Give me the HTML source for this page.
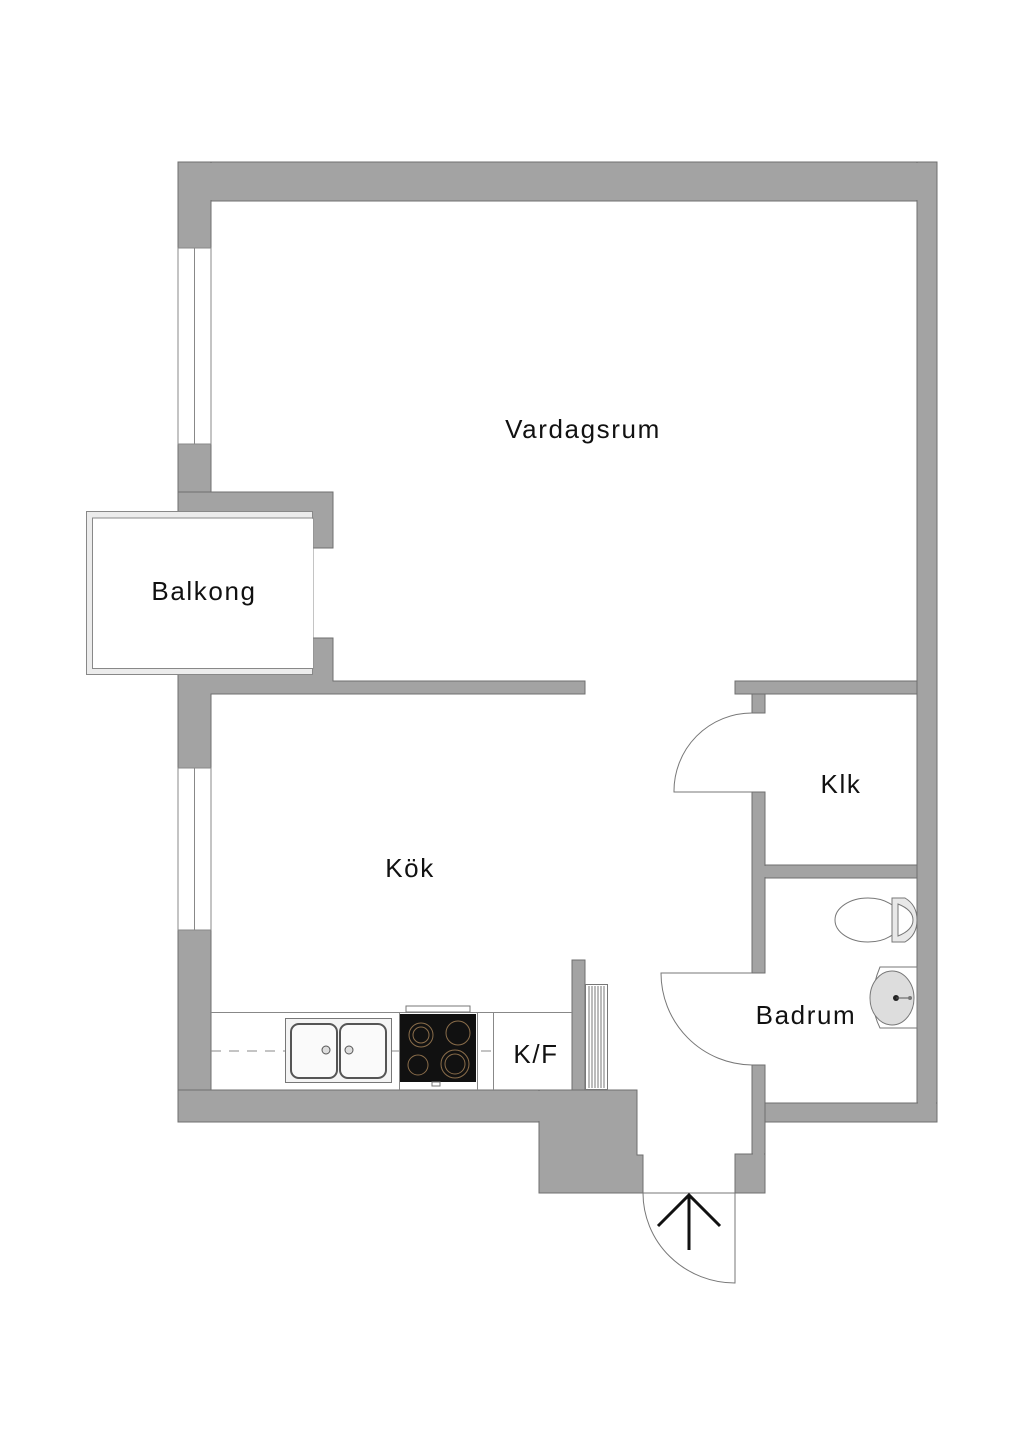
<!DOCTYPE html>
<html><head><meta charset="utf-8"><style>
html,body{margin:0;padding:0;background:#fff;}
svg{display:block;}
text{font-family:"Liberation Sans","DejaVu Sans",sans-serif;fill:#111;letter-spacing:1.6px;}
</style></head><body>
<svg width="1024" height="1449" viewBox="0 0 1024 1449" xmlns="http://www.w3.org/2000/svg">
<g fill="#a3a3a3" stroke="#6f6f6f" stroke-width="1">
<rect x="178" y="162" width="759" height="39"/>
<rect x="917" y="162" width="20" height="960"/>
<rect x="178" y="162" width="33" height="86"/>
<rect x="178" y="444" width="33" height="74"/>
<polygon points="178,492 333,492 333,548 313,548 313,518 178,518"/>
<polygon points="178,668 313,668 313,638 333,638 333,681 585,681 585,694 211,694 211,768 178,768"/>
<rect x="178" y="930" width="33" height="192"/>
<rect x="178" y="1090" width="459" height="32"/>
<polygon points="539,1122 539,1193 643,1193 643,1155 637,1155 637,1090 539,1090"/>
<rect x="572" y="960" width="13" height="130"/>
<rect x="735" y="681" width="182" height="13"/>
<rect x="752" y="694" width="13" height="19"/>
<rect x="752" y="792" width="13" height="181"/>
<rect x="765" y="865" width="152" height="13"/>
<rect x="752" y="1065" width="13" height="128"/>
<rect x="735" y="1154" width="30" height="39"/>
<rect x="765" y="1103" width="172" height="19"/>
</g>
<g fill="#a3a3a3">
<rect x="179" y="163" width="757" height="37"/>
<rect x="918" y="163" width="18" height="958"/>
<rect x="179" y="1091" width="457" height="30"/>
<rect x="540" y="1091" width="96" height="101"/>
<rect x="753" y="1066" width="11" height="126"/>
<rect x="736" y="1155" width="28" height="37"/>
<rect x="766" y="1104" width="170" height="17"/>
<rect x="753" y="682" width="163" height="11"/>
<rect x="753" y="866" width="163" height="11"/>
</g>
<g fill="#fff" stroke="#888" stroke-width="1">
<rect x="178" y="248" width="33" height="196"/>
<line x1="194.5" y1="248" x2="194.5" y2="444"/>
<rect x="178" y="768" width="33" height="162"/>
<line x1="194.5" y1="768" x2="194.5" y2="930"/>
</g>
<rect x="86.5" y="511.5" width="226" height="163" fill="#ececec" stroke="#888"/>
<rect x="92.5" y="518" width="220.5" height="150.5" fill="#fff" stroke="#888"/>
<rect x="178" y="519" width="135" height="149" fill="#fff"/>
<g stroke="#888" fill="none" stroke-width="1">
<line x1="211" y1="1012.5" x2="572" y2="1012.5"/>
<line x1="399.5" y1="1012" x2="399.5" y2="1090"/>
<line x1="477.5" y1="1012" x2="477.5" y2="1090"/>
<line x1="493.5" y1="1012" x2="493.5" y2="1090"/>
<line x1="211" y1="1051" x2="493" y2="1051" stroke-dasharray="10,8"/>
</g>
<rect x="285.5" y="1018.5" width="106" height="64" fill="#f4f4f4" stroke="#777"/>
<rect x="291" y="1024" width="46" height="54" rx="8" fill="#fafafa" stroke="#555" stroke-width="2"/>
<rect x="340" y="1024" width="46" height="54" rx="8" fill="#fafafa" stroke="#555" stroke-width="2"/>
<circle cx="326" cy="1050" r="4" fill="#ddd" stroke="#555"/>
<circle cx="349" cy="1050" r="4" fill="#ddd" stroke="#555"/>
<rect x="406" y="1006" width="64" height="6" fill="#fff" stroke="#777"/>
<rect x="400" y="1014" width="76" height="68" fill="#111"/>
<g fill="none" stroke="#8a6d4a" stroke-width="1">
<circle cx="421" cy="1035" r="12"/><circle cx="421" cy="1035" r="8"/>
<circle cx="458" cy="1033" r="12"/>
<circle cx="418" cy="1065" r="10"/>
<circle cx="455" cy="1064" r="14"/><circle cx="455" cy="1064" r="10"/>
</g>
<rect x="432" y="1082" width="8" height="4" fill="#fff" stroke="#777"/>
<rect x="585.5" y="984.5" width="22" height="105" fill="#fff" stroke="#777"/>
<g stroke="#777" stroke-width="1">
<line x1="589" y1="986" x2="589" y2="1088"/><line x1="592" y1="986" x2="592" y2="1088"/>
<line x1="595" y1="986" x2="595" y2="1088"/><line x1="598" y1="986" x2="598" y2="1088"/>
<line x1="601" y1="986" x2="601" y2="1088"/><line x1="604" y1="986" x2="604" y2="1088"/>
</g>
<g fill="none" stroke="#777" stroke-width="1">
<path d="M752,792 L674,792 A78,78 0 0 1 752,713"/>
<path d="M752,973 L661,973 A92,92 0 0 0 752,1065"/>
<path d="M735,1193 L735,1283 A92,90 0 0 1 643,1193 L735,1193"/>
</g>
<g stroke="#111" stroke-width="3" fill="none">
<line x1="689" y1="1195" x2="689" y2="1250"/>
<polyline points="658,1226 689,1195 720,1226"/>
</g>
<ellipse cx="868" cy="920" rx="33" ry="22" fill="#fff" stroke="#777"/>
<path d="M892,898 L905,898 Q917,905 917,920 Q917,935 905,942 L892,942 Z" fill="#e8e8e8" stroke="#777"/>
<path d="M898,904 Q913,910 913,920 Q913,930 898,936 Z" fill="#fff" stroke="#777"/>
<path d="M880,967 L917,967 L917,1028 L880,1028 Q866,1000 880,967 Z" fill="#fff" stroke="#777"/>
<ellipse cx="892" cy="998" rx="22" ry="27" fill="#ddd" stroke="#777"/>
<circle cx="896" cy="998" r="3" fill="#222"/>
<line x1="896" y1="998" x2="910" y2="998" stroke="#555"/>
<circle cx="910" cy="998" r="2" fill="#777"/>
<text x="583" y="438" font-size="26" text-anchor="middle">Vardagsrum</text>
<text x="204" y="600" font-size="26" text-anchor="middle">Balkong</text>
<text x="841" y="793" font-size="26" text-anchor="middle">Klk</text>
<text x="410" y="877" font-size="26" text-anchor="middle">Kök</text>
<text x="806" y="1024" font-size="26" text-anchor="middle">Badrum</text>
<text x="536" y="1063" font-size="26" text-anchor="middle">K/F</text>
</svg>
</body></html>
